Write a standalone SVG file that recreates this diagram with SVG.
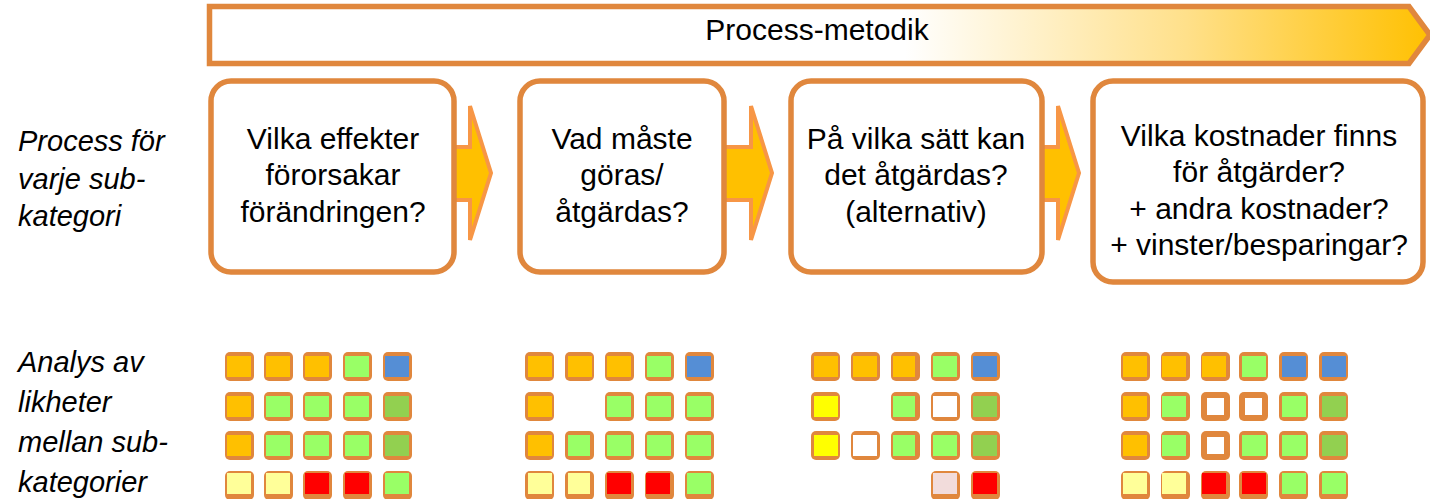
<svg xmlns="http://www.w3.org/2000/svg" width="1430" height="499" viewBox="0 0 1430 499">
<defs>
<linearGradient id="bannerGrad" x1="207" y1="0" x2="1432" y2="0" gradientUnits="userSpaceOnUse">
<stop offset="0" stop-color="#FFFFFF"/>
<stop offset="0.57" stop-color="#FFFFFF"/>
<stop offset="0.8" stop-color="#FFE08A"/>
<stop offset="1" stop-color="#FFC000"/>
</linearGradient>
</defs>
<style>
.box{fill:#FFFFFF;stroke:#E0873D;stroke-width:5.5}
.txt{font-family:"Liberation Sans",Arial,sans-serif;font-size:30px;fill:#000000;text-anchor:middle}
.lbl{font-family:"Liberation Sans",Arial,sans-serif;font-size:29px;font-style:italic;fill:#000000}
.arr{fill:#FFC000;stroke:#F79646;stroke-width:4;stroke-linejoin:miter}
.sq{fill:#E0873D}
.go{fill:#FFC000}.lg{fill:#99FF66}.dg{fill:#92D050}.bl{fill:#558ED5}
.py{fill:#FFFF99}.rd{fill:#FF0000}.ye{fill:#FFFF00}.wh{fill:#FFFFFF}.pk{fill:#F2DCDB}
</style>

<g id="banner">
<polygon points="209.5,6.5 1409,6.5 1430,35 1409,63.5 209.5,63.5" fill="url(#bannerGrad)" stroke="#E0873D" stroke-width="5.5"/>
<text class="txt" x="817" y="40">Process-metodik</text>
</g>

<g id="connectors">
<polygon class="arr" points="452,147 470,147 470,106 491,173 470,240 470,200 452,200"/>
<polygon class="arr" points="724,147 751,147 751,106 772,173 751,240 751,200 724,200"/>
<polygon class="arr" points="1042,147 1058,147 1058,106 1079,173 1058,240 1058,200 1042,200"/>
</g>

<g id="step1">
<rect class="box" x="211" y="81" width="243" height="191" rx="20"/>
<text class="txt" x="333" y="149">Vilka effekter</text>
<text class="txt" x="333" y="185">förorsakar</text>
<text class="txt" x="333" y="222">förändringen?</text>
</g>
<g id="step2">
<rect class="box" x="520" y="81" width="204" height="191" rx="20"/>
<text class="txt" x="622" y="149">Vad måste</text>
<text class="txt" x="622" y="185">göras/</text>
<text class="txt" x="622" y="222">åtgärdas?</text>
</g>
<g id="step3">
<rect class="box" x="791" y="81" width="251" height="191" rx="20"/>
<text class="txt" x="916" y="149">På vilka sätt kan</text>
<text class="txt" x="916" y="185">det åtgärdas?</text>
<text class="txt" x="916" y="222">(alternativ)</text>
</g>
<g id="step4">
<rect class="box" x="1093" y="81" width="330" height="201" rx="20"/>
<text class="txt" x="1259" y="146">Vilka kostnader finns</text>
<text class="txt" x="1259" y="182">för åtgärder?</text>
<text class="txt" x="1259" y="219">+ andra kostnader?</text>
<text class="txt" x="1259" y="255">+ vinster/besparingar?</text>
</g>

<g id="label-process">
<text class="lbl" x="18" y="151">Process för</text>
<text class="lbl" x="18" y="189">varje sub-</text>
<text class="lbl" x="18" y="226">kategori</text>
</g>
<g id="label-analys">
<text class="lbl" x="18" y="372">Analys av</text>
<text class="lbl" x="18" y="412">likheter</text>
<text class="lbl" x="18" y="452">mellan sub-</text>
<text class="lbl" x="18" y="492">kategorier</text>
</g>

<g id="grid1">
<rect class="sq" x="225" y="352" width="29" height="29" rx="5"/><rect class="go" x="227" y="356" width="24" height="21"/>
<rect class="sq" x="264" y="352" width="29" height="29" rx="5"/><rect class="go" x="266" y="356" width="24" height="21"/>
<rect class="sq" x="303" y="352" width="29" height="29" rx="5"/><rect class="go" x="305" y="356" width="24" height="21"/>
<rect class="sq" x="343" y="352" width="29" height="29" rx="5"/><rect class="lg" x="345" y="356" width="24" height="21"/>
<rect class="sq" x="383" y="352" width="29" height="29" rx="5"/><rect class="bl" x="385" y="356" width="24" height="21"/>

<rect class="sq" x="225" y="392" width="29" height="29" rx="5"/><rect class="go" x="227" y="396" width="24" height="21"/>
<rect class="sq" x="264" y="392" width="29" height="29" rx="5"/><rect class="lg" x="266" y="396" width="24" height="21"/>
<rect class="sq" x="303" y="392" width="29" height="29" rx="5"/><rect class="lg" x="305" y="396" width="24" height="21"/>
<rect class="sq" x="343" y="392" width="29" height="29" rx="5"/><rect class="lg" x="345" y="396" width="24" height="21"/>
<rect class="sq" x="383" y="392" width="29" height="29" rx="5"/><rect class="dg" x="385" y="396" width="24" height="21"/>

<rect class="sq" x="225" y="431" width="29" height="29" rx="5"/><rect class="go" x="227" y="435" width="24" height="21"/>
<rect class="sq" x="264" y="431" width="29" height="29" rx="5"/><rect class="lg" x="266" y="435" width="24" height="21"/>
<rect class="sq" x="303" y="431" width="29" height="29" rx="5"/><rect class="lg" x="305" y="435" width="24" height="21"/>
<rect class="sq" x="343" y="431" width="29" height="29" rx="5"/><rect class="lg" x="345" y="435" width="24" height="21"/>
<rect class="sq" x="383" y="431" width="29" height="29" rx="5"/><rect class="dg" x="385" y="435" width="24" height="21"/>

<rect class="sq" x="225" y="471" width="29" height="29" rx="5"/><rect class="py" x="227" y="473" width="24" height="21"/>
<rect class="sq" x="264" y="471" width="29" height="29" rx="5"/><rect class="py" x="266" y="473" width="24" height="21"/>
<rect class="sq" x="303" y="471" width="29" height="29" rx="5"/><rect class="rd" x="305" y="473" width="24" height="21"/>
<rect class="sq" x="343" y="471" width="29" height="29" rx="5"/><rect class="rd" x="345" y="473" width="24" height="21"/>
<rect class="sq" x="383" y="471" width="29" height="29" rx="5"/><rect class="lg" x="385" y="473" width="24" height="21"/>
</g>

<g id="grid2">
<rect class="sq" x="525" y="352" width="29" height="29" rx="5"/><rect class="go" x="528" y="356" width="24" height="21"/>
<rect class="sq" x="565" y="352" width="29" height="29" rx="5"/><rect class="go" x="568" y="356" width="24" height="21"/>
<rect class="sq" x="605" y="352" width="29" height="29" rx="5"/><rect class="go" x="607" y="356" width="24" height="21"/>
<rect class="sq" x="645" y="352" width="29" height="29" rx="5"/><rect class="lg" x="647" y="356" width="24" height="21"/>
<rect class="sq" x="685" y="352" width="29" height="29" rx="5"/><rect class="bl" x="687" y="356" width="24" height="21"/>

<rect class="sq" x="525" y="392" width="29" height="29" rx="5"/><rect class="go" x="528" y="396" width="24" height="21"/>
<rect class="sq" x="605" y="392" width="29" height="29" rx="5"/><rect class="lg" x="607" y="396" width="24" height="21"/>
<rect class="sq" x="645" y="392" width="29" height="29" rx="5"/><rect class="lg" x="647" y="396" width="24" height="21"/>
<rect class="sq" x="685" y="392" width="29" height="29" rx="5"/><rect class="lg" x="687" y="396" width="24" height="21"/>

<rect class="sq" x="525" y="431" width="29" height="29" rx="5"/><rect class="go" x="528" y="435" width="24" height="21"/>
<rect class="sq" x="565" y="431" width="29" height="29" rx="5"/><rect class="lg" x="568" y="435" width="22" height="21"/>
<rect class="sq" x="605" y="431" width="29" height="29" rx="5"/><rect class="lg" x="607" y="435" width="24" height="21"/>
<rect class="sq" x="645" y="431" width="29" height="29" rx="5"/><rect class="lg" x="647" y="435" width="24" height="21"/>
<rect class="sq" x="685" y="431" width="29" height="29" rx="5"/><rect class="lg" x="687" y="435" width="24" height="21"/>

<rect class="sq" x="525" y="471" width="29" height="29" rx="5"/><rect class="py" x="528" y="473" width="24" height="21"/>
<rect class="sq" x="565" y="471" width="29" height="29" rx="5"/><rect class="py" x="568" y="473" width="22" height="21"/>
<rect class="sq" x="605" y="471" width="29" height="29" rx="5"/><rect class="rd" x="607" y="473" width="24" height="21"/>
<rect class="sq" x="645" y="471" width="29" height="29" rx="5"/><rect class="rd" x="646" y="473" width="24" height="21"/>
<rect class="sq" x="685" y="471" width="29" height="29" rx="5"/><rect class="lg" x="687" y="473" width="24" height="21"/>
</g>

<g id="grid3">
<rect class="sq" x="811" y="352" width="29" height="29" rx="5"/><rect class="go" x="814" y="356" width="24" height="21"/>
<rect class="sq" x="851" y="352" width="29" height="29" rx="5"/><rect class="go" x="853" y="356" width="24" height="21"/>
<rect class="sq" x="891" y="352" width="29" height="29" rx="5"/><rect class="go" x="893" y="356" width="22" height="21"/>
<rect class="sq" x="931" y="352" width="29" height="29" rx="5"/><rect class="lg" x="933" y="356" width="24" height="21"/>
<rect class="sq" x="971" y="352" width="29" height="29" rx="5"/><rect class="bl" x="973" y="356" width="24" height="21"/>

<rect class="sq" x="811" y="392" width="29" height="29" rx="5"/><rect class="ye" x="814" y="396" width="24" height="21"/>
<rect class="sq" x="891" y="392" width="29" height="29" rx="5"/><rect class="lg" x="893" y="396" width="22" height="21"/>
<rect class="sq" x="931" y="392" width="29" height="29" rx="5"/><rect class="wh" x="933" y="396" width="24" height="21"/>
<rect class="sq" x="971" y="392" width="29" height="29" rx="5"/><rect class="dg" x="973" y="396" width="24" height="21"/>

<rect class="sq" x="811" y="431" width="29" height="29" rx="5"/><rect class="ye" x="814" y="435" width="24" height="21"/>
<rect class="sq" x="851" y="431" width="29" height="29" rx="5"/><rect class="wh" x="853" y="435" width="24" height="21"/>
<rect class="sq" x="891" y="431" width="29" height="29" rx="5"/><rect class="lg" x="893" y="435" width="22" height="21"/>
<rect class="sq" x="931" y="431" width="29" height="29" rx="5"/><rect class="lg" x="933" y="435" width="24" height="21"/>
<rect class="sq" x="971" y="431" width="29" height="29" rx="5"/><rect class="dg" x="973" y="435" width="24" height="21"/>

<rect class="sq" x="931" y="471" width="29" height="29" rx="5"/><rect class="pk" x="933" y="473" width="24" height="21"/>
<rect class="sq" x="971" y="471" width="29" height="29" rx="5"/><rect class="rd" x="973" y="473" width="24" height="21"/>
</g>

<g id="grid4">
<rect class="sq" x="1121" y="352" width="29" height="29" rx="5"/><rect class="go" x="1123" y="356" width="24" height="21"/>
<rect class="sq" x="1161" y="352" width="29" height="29" rx="5"/><rect class="go" x="1162" y="356" width="24" height="21"/>
<rect class="sq" x="1201" y="352" width="29" height="29" rx="5"/><rect class="go" x="1202" y="356" width="24" height="21"/>
<rect class="sq" x="1239" y="352" width="29" height="29" rx="5"/><rect class="lg" x="1242" y="356" width="24" height="21"/>
<rect class="sq" x="1279" y="352" width="29" height="29" rx="5"/><rect class="bl" x="1282" y="356" width="24" height="21"/>
<rect class="sq" x="1319" y="352" width="29" height="29" rx="5"/><rect class="bl" x="1322" y="356" width="24" height="21"/>

<rect class="sq" x="1121" y="392" width="29" height="29" rx="5"/><rect class="go" x="1123" y="396" width="24" height="21"/>
<rect class="sq" x="1161" y="392" width="29" height="29" rx="5"/><rect class="lg" x="1162" y="396" width="24" height="21"/>
<rect class="sq" x="1201" y="392" width="29" height="29" rx="5"/><rect class="wh" x="1207" y="398" width="17" height="17"/>
<rect class="sq" x="1239" y="392" width="29" height="29" rx="5"/><rect class="wh" x="1245" y="398" width="17" height="17"/>
<rect class="sq" x="1279" y="392" width="29" height="29" rx="5"/><rect class="lg" x="1282" y="396" width="24" height="21"/>
<rect class="sq" x="1319" y="392" width="29" height="29" rx="5"/><rect class="dg" x="1322" y="396" width="24" height="21"/>

<rect class="sq" x="1121" y="431" width="29" height="29" rx="5"/><rect class="go" x="1123" y="435" width="24" height="21"/>
<rect class="sq" x="1161" y="431" width="29" height="29" rx="5"/><rect class="lg" x="1162" y="435" width="24" height="21"/>
<rect class="sq" x="1201" y="431" width="29" height="29" rx="5"/><rect class="wh" x="1207" y="437" width="17" height="17"/>
<rect class="sq" x="1239" y="431" width="29" height="29" rx="5"/><rect class="lg" x="1242" y="435" width="24" height="21"/>
<rect class="sq" x="1279" y="431" width="29" height="29" rx="5"/><rect class="lg" x="1282" y="435" width="24" height="21"/>
<rect class="sq" x="1319" y="431" width="29" height="29" rx="5"/><rect class="dg" x="1322" y="435" width="24" height="21"/>

<rect class="sq" x="1121" y="471" width="29" height="29" rx="5"/><rect class="py" x="1123" y="473" width="24" height="21"/>
<rect class="sq" x="1161" y="471" width="29" height="29" rx="5"/><rect class="py" x="1162" y="473" width="24" height="21"/>
<rect class="sq" x="1201" y="471" width="29" height="29" rx="5"/><rect class="rd" x="1202" y="473" width="24" height="21"/>
<rect class="sq" x="1239" y="471" width="29" height="29" rx="5"/><rect class="rd" x="1242" y="473" width="24" height="21"/>
<rect class="sq" x="1279" y="471" width="29" height="29" rx="5"/><rect class="lg" x="1282" y="473" width="24" height="21"/>
<rect class="sq" x="1319" y="471" width="29" height="29" rx="5"/><rect class="lg" x="1322" y="473" width="24" height="21"/>
</g>
</svg>
